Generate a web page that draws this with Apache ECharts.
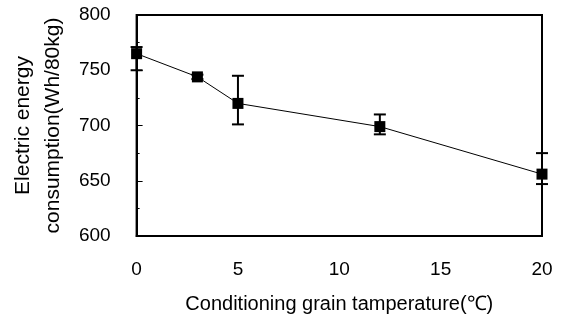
<!DOCTYPE html>
<html>
<head>
<meta charset="utf-8">
<script src="https://cdn.jsdelivr.net/npm/echarts@6/dist/echarts.min.js"></script>
<style>
  html, body { margin: 0; padding: 0; background: #fff; }
  #chart { width: 563px; height: 322px; }
</style>
</head>
<body>
<div id="chart"></div>
<script>
// Data
const temperatures = [0, 3, 5, 12, 20];
const consumption = [765, 744, 720, 699, 656];
const errLow = [750, 742, 701, 692, 647];
const errHigh = [771, 746, 745, 710, 675];
const xTicks = [0, 5, 10, 15, 20];
const yTicks = [600, 650, 700, 750, 800];

const font = "'Liberation Sans', Arial, Helvetica, sans-serif";
const chart = echarts.init(document.getElementById('chart'), null, { renderer: 'canvas' });

const lineData = temperatures.map((t, i) => [t, consumption[i]]);
const errData = temperatures.map((t, i) => [t, errLow[i], errHigh[i]]);

chart.setOption({
  animation: false,
  backgroundColor: '#fff',
  grid: {
    left: 131, right: 21, top: 15, bottom: 86,
    show: true, borderColor: '#000', borderWidth: 2, backgroundColor: 'transparent'
  },
  xAxis: {
    type: 'value',
    min: xTicks[0], max: xTicks[xTicks.length - 1], interval: 5,
    name: 'Conditioning grain tamperature(℃)',
    nameLocation: 'middle',
    nameGap: 58,
    nameTextStyle: { fontFamily: font, fontSize: 20, color: '#000' },
    axisLine: { show: true, lineStyle: { color: '#000', width: 2 } },
    axisTick: { show: false },
    splitLine: { show: false },
    axisLabel: { fontFamily: font, fontSize: 19, color: '#000', margin: 24 }
  },
  yAxis: {
    type: 'value',
    min: yTicks[0], max: yTicks[yTicks.length - 1], interval: 50,
    name: 'Electric energy\nconsumption(Wh/80kg)',
    nameLocation: 'middle',
    nameRotate: 90,
    nameGap: 62,
    nameTextStyle: { fontFamily: font, fontSize: 21, color: '#000', lineHeight: 30 },
    axisLine: { show: true, lineStyle: { color: '#000', width: 2 } },
    axisTick: { show: true, inside: true, length: 6, lineStyle: { color: '#000', width: 1 } },
    minorTick: { show: true, splitNumber: 2, length: 3, lineStyle: { color: '#000', width: 1 } },
    splitLine: { show: false },
    axisLabel: { fontFamily: font, fontSize: 19, color: '#000', margin: 26 }
  },
  series: [
    {
      type: 'custom',
      data: errData,
      z: 3,
      renderItem: function (params, api) {
        const x = api.value(0);
        const lo = api.coord([x, api.value(1)]);
        const hi = api.coord([x, api.value(2)]);
        const hw = 6;
        const style = { stroke: '#000', lineWidth: 2 };
        return {
          type: 'group',
          children: [
            { type: 'line', shape: { x1: lo[0], y1: lo[1], x2: hi[0], y2: hi[1] }, style: style },
            { type: 'line', shape: { x1: lo[0] - hw, y1: lo[1], x2: lo[0] + hw, y2: lo[1] }, style: style },
            { type: 'line', shape: { x1: hi[0] - hw, y1: hi[1], x2: hi[0] + hw, y2: hi[1] }, style: style }
          ]
        };
      }
    },
    {
      type: 'line',
      data: lineData,
      z: 4,
      symbol: 'rect',
      symbolSize: 11,
      itemStyle: { color: '#000' },
      lineStyle: { color: '#000', width: 1 }
    }
  ]
});
</script>
</body>
</html>
